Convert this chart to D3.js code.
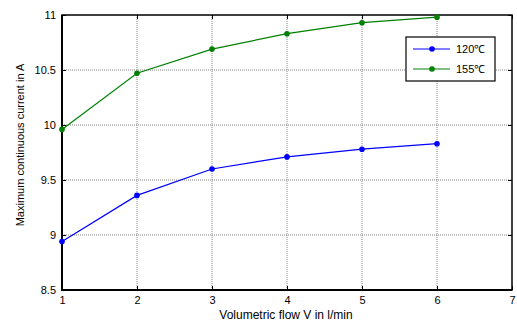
<!DOCTYPE html>
<html lang="en">
<head>
<meta charset="UTF-8" />
<title>Maximum continuous current</title>
<script src="https://cdn.jsdelivr.net/npm/d3@7"></script>
<style>
  body { margin: 0; background: #fff; }
  text { font-family: "Liberation Sans", Arial, sans-serif; font-size: 11px; fill: #000; }
</style>
</head>
<body>
<svg width="517" height="325"></svg>
<script>
const flow = [1, 2, 3, 4, 5, 6];
const current120 = [8.94, 9.36, 9.60, 9.71, 9.78, 9.83];
const current155 = [9.96, 10.47, 10.69, 10.83, 10.93, 10.98];
const xTicks = [1, 2, 3, 4, 5, 6, 7];
const yTicks = [8.5, 9, 9.5, 10, 10.5, 11];
const seriesNames = ["120\u2103", "155\u2103"];
const seriesColors = ["#0000ff", "#008000"];

const svg = d3.select("svg");
const plotL = 62, plotR = 512, plotT = 15, plotB = 290;

const x = d3.scaleLinear().domain([1, 7]).range([plotL, plotR]);
const y = d3.scaleLinear().domain([8.5, 11]).range([plotB, plotT]);

// grid
const grid = svg.append("g").attr("stroke", "#666").attr("stroke-width", 0.8)
  .attr("stroke-dasharray", "1,1");
grid.selectAll(".gx").data(xTicks.slice(1, -1)).join("line")
  .attr("x1", d => x(d)).attr("x2", d => x(d)).attr("y1", plotT).attr("y2", plotB);
grid.selectAll(".gy").data(yTicks.slice(1, -1)).join("line")
  .attr("y1", d => y(d)).attr("y2", d => y(d)).attr("x1", plotL).attr("x2", plotR);

// axes (ticks inward)
svg.append("g").attr("transform", `translate(0,${plotB})`)
  .call(d3.axisBottom(x).tickValues(xTicks).tickSize(-4).tickPadding(6).tickFormat(d3.format("d")))
  .call(g => g.select(".domain").remove());
svg.append("g").attr("transform", `translate(${plotL},0)`)
  .call(d3.axisLeft(y).tickValues(yTicks).tickSize(-4).tickPadding(6).tickFormat(d => d))
  .call(g => g.select(".domain").remove());
svg.append("g").attr("transform", `translate(0,${plotT})`)
  .call(d3.axisTop(x).tickValues(xTicks).tickSize(-4).tickFormat(""))
  .call(g => g.select(".domain").remove());
svg.append("g").attr("transform", `translate(${plotR},0)`)
  .call(d3.axisRight(y).tickValues(yTicks).tickSize(-4).tickFormat(""))
  .call(g => g.select(".domain").remove());
svg.selectAll(".tick text").style("font-size", "11px").style("font-family", "Liberation Sans, Arial, sans-serif");

// frame
svg.append("rect").attr("x", plotL).attr("y", plotT).attr("width", plotR - plotL).attr("height", plotB - plotT)
  .attr("fill", "none").attr("stroke", "#000").attr("stroke-width", 1.5);
svg.append("path").attr("d", `M${plotL},${plotT}V${plotB}H${plotR}`)
  .attr("fill", "none").attr("stroke", "#000").attr("stroke-width", 2);

// series
const line = d3.line().x((d, i) => x(flow[i])).y(d => y(d));
[current120, current155].forEach((vals, k) => {
  svg.append("path").datum(vals).attr("d", line)
    .attr("fill", "none").attr("stroke", seriesColors[k]).attr("stroke-width", 1.2);
  svg.selectAll(null).data(vals).join("circle")
    .attr("cx", (d, i) => x(flow[i])).attr("cy", d => y(d)).attr("r", 2.8)
    .attr("fill", seriesColors[k]);
});

// legend
const lg = svg.append("g");
lg.append("rect").attr("x", 406).attr("y", 37).attr("width", 89).attr("height", 44)
  .attr("fill", "#fff").attr("stroke", "#000").attr("stroke-width", 1.2);
seriesNames.forEach((name, k) => {
  const ly = 49 + k * 20;
  lg.append("line").attr("x1", 413).attr("x2", 450).attr("y1", ly).attr("y2", ly)
    .attr("stroke", seriesColors[k]).attr("stroke-width", 1.2);
  lg.append("circle").attr("cx", 432).attr("cy", ly).attr("r", 2.8).attr("fill", seriesColors[k]);
  lg.append("text").attr("x", 456).attr("y", ly + 4).text(name);
});

// axis titles
svg.append("text").attr("x", 286).attr("y", 319).attr("text-anchor", "middle")
  .style("font-size", "12px").text("Volumetric flow V in l/min");
svg.append("text").attr("transform", "translate(24,145) rotate(-90)")
  .attr("text-anchor", "middle").text("Maximum continuous current in A");
</script>
</body>
</html>
